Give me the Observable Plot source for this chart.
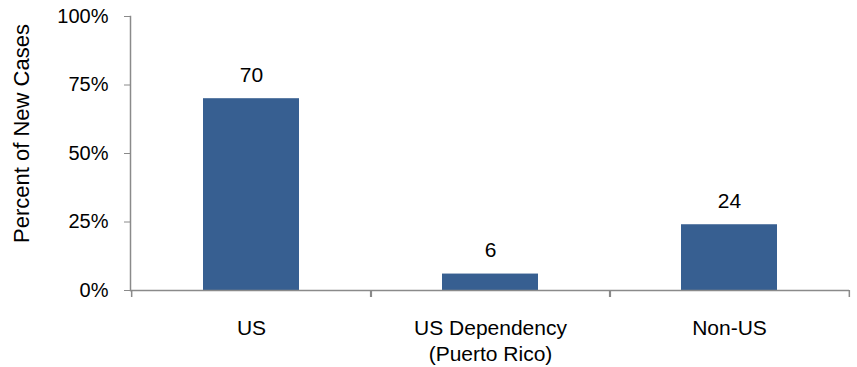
<!DOCTYPE html>
<html>
<head>
<meta charset="utf-8">
<script src="https://cdn.jsdelivr.net/npm/d3@7"></script>
<script src="https://cdn.jsdelivr.net/npm/@observablehq/plot@0.6"></script>
<style>
  html, body { margin: 0; padding: 0; background: #fff; }
  #chart svg { display: block; }
</style>
</head>
<body>
<div id="chart"></div>
<script>
const categories = ["US", "US Dependency\n(Puerto Rico)", "Non-US"];
const values = [70, 6, 24];
const valueLabels = ["70", "6", "24"];
const yTicks = [0, 25, 50, 75, 100];
const yLabel = "Percent of New Cases";

const W = 857, H = 367, ML = 130, MR = 8, MT = 16, MB = 77;
const step = (W - ML - MR) / categories.length;
const axisColor = "#8a8a8a";
const barColor = "#375f91";

const data = categories.map((c, i) => ({cat: c, value: values[i], label: valueLabels[i]}));

const chart = Plot.plot({
  width: W,
  height: H,
  marginLeft: ML,
  marginRight: MR,
  marginTop: MT,
  marginBottom: MB,
  style: {fontFamily: "'Liberation Sans', Arial, Helvetica, sans-serif", fontSize: "20px", color: "#000", background: "#fff"},
  x: {domain: categories, paddingInner: 0.6, paddingOuter: 0.3},
  y: {domain: [0, 100]},
  marks: [
    Plot.barY(data, {x: "cat", y: "value", fill: barColor}),
    Plot.ruleY([0], {stroke: axisColor, strokeWidth: 1.5}),
    Plot.frame({anchor: "left", stroke: axisColor, strokeWidth: 1.5}),
    Plot.ruleX(data, {x: "cat", y1: 0, y2: 0, insetBottom: -7, dx: -step / 2, stroke: axisColor, strokeWidth: 1.5}),
    Plot.ruleX(data, {x: "cat", y1: 0, y2: 0, insetBottom: -7, dx: step / 2, stroke: axisColor, strokeWidth: 1.5}),
    Plot.axisY({
      ticks: yTicks,
      tickFormat: d => d + "%",
      tickSize: 6,
      tickPadding: 16,
      stroke: axisColor,
      fontSize: 20,
      label: null
    }),
    Plot.text([yLabel], {text: d => d, frameAnchor: "left", textAnchor: "middle", lineAnchor: "middle", rotate: -90, dx: -109, dy: -20, fontSize: 22, fill: "#000"}),
    Plot.axisX({
      tickSize: 0,
      tickPadding: 26,
      fontSize: 21,
      lineHeight: 1.24,
      label: null
    }),
    Plot.text(data, {x: "cat", y: "value", text: "label", lineAnchor: "bottom", dy: -17, fontSize: 21, fill: "#000"})
  ]
});
document.getElementById("chart").appendChild(chart);
</script>
</body>
</html>
